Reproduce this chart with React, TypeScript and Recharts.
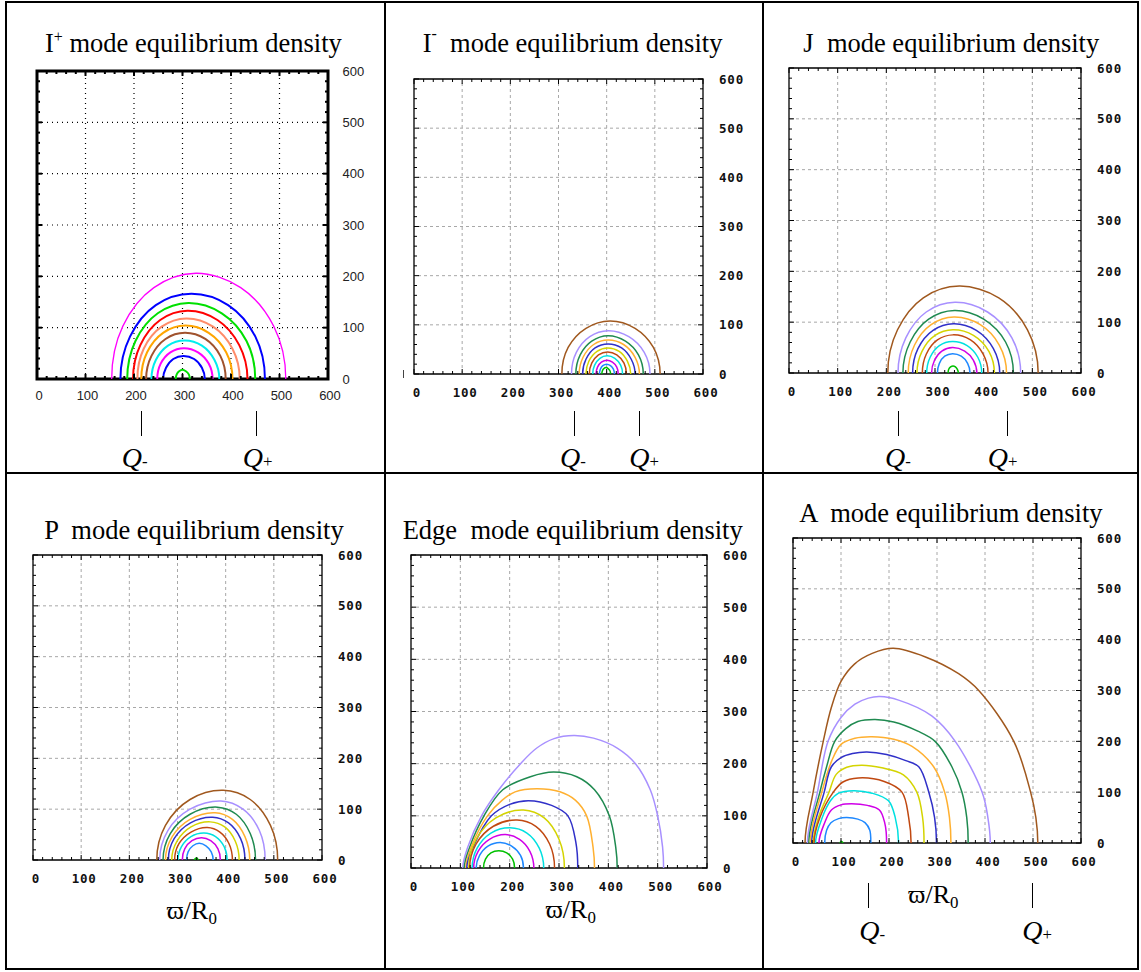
import React from 'react'
import { LineChart, Line, XAxis, YAxis, ReferenceArea, ReferenceLine } from 'recharts'

// axis ticks (minor every 20, labelled every 100)
const minorTicks = [
  0, 20, 40, 60, 80, 100, 120, 140, 160, 180, 200, 220, 240, 260, 280, 300,
  320, 340, 360, 380, 400, 420, 440, 460, 480, 500, 520, 540, 560, 580, 600,
]
const gridValues = [100, 200, 300, 400, 500]

// contours, outer to inner, as [x, y] points
const iPlusCurves: number[][][] = [
  [[154, 0], [177, 103], [241, 178], [328, 206], [420, 178], [488, 103], [513, 0]],
  [[172, 0], [192, 83], [245, 144], [318, 166], [394, 144], [450, 83], [470, 0]],
  [[186, 0], [203, 74], [249, 128], [312, 148], [381, 128], [432, 74], [450, 0]],
  [[198, 0], [213, 66], [254, 115], [310, 133], [372, 115], [417, 66], [434, 0]],
  [[207, 0], [220, 59], [257, 102], [308, 118], [363, 102], [403, 59], [418, 0]],
  [[215, 0], [227, 52], [260, 90], [306, 104], [354, 90], [390, 52], [403, 0]],
  [[225, 0], [236, 45], [265, 78], [305, 90], [347, 78], [378, 45], [389, 0]],
  [[236, 0], [245, 37], [270, 65], [304, 75], [340, 65], [366, 37], [376, 0]],
  [[248, 0], [255, 30], [275, 52], [303, 60], [332, 52], [354, 30], [362, 0]],
  [[260, 0], [266, 22], [281, 39], [302, 45], [324, 39], [340, 22], [346, 0]],
  [[286, 0], [288, 9], [293, 15], [300, 18], [307, 15], [313, 9], [315, 0]],
]
const iPlusColors = [
  '#ff00ff', '#0000ff', '#00e000', '#ff0000', '#ff8c69', '#ffa500',
  '#a0522d', '#00eeee', '#ff00ff', '#0000ff', '#00e000',
]

const iMinusCurves: number[][][] = [
  [[307, 0], [320, 54], [357, 93], [407, 108], [459, 93], [497, 54], [511, 0]],
  [[327, 0], [337, 44], [365, 76], [403, 88], [446, 76], [478, 44], [490, 0]],
  [[336, 0], [345, 39], [369, 67], [403, 78], [439, 67], [466, 39], [476, 0]],
  [[343, 0], [351, 34], [373, 60], [403, 69], [435, 60], [459, 34], [468, 0]],
  [[350, 0], [357, 30], [376, 53], [403, 61], [431, 53], [451, 30], [459, 0]],
  [[357, 0], [363, 26], [380, 46], [402, 53], [426, 46], [443, 26], [450, 0]],
  [[364, 0], [369, 22], [383, 39], [402, 45], [421, 39], [436, 22], [441, 0]],
  [[371, 0], [375, 18], [386, 32], [401, 37], [417, 32], [429, 18], [433, 0]],
  [[378, 0], [381, 14], [389, 24], [401, 28], [412, 24], [421, 14], [424, 0]],
  [[385, 0], [387, 10], [392, 17], [400, 20], [408, 17], [414, 10], [416, 0]],
  [[390, 0], [391, 6], [394, 11], [399, 13], [403, 11], [407, 6], [408, 0]],
]

const jCurves: number[][][] = [
  [[203, 0], [223, 85], [276, 148], [350, 171], [431, 148], [490, 85], [512, 0]],
  [[224, 0], [240, 69], [282, 120], [341, 139], [408, 120], [458, 69], [476, 0]],
  [[234, 0], [249, 61], [287, 106], [340, 123], [400, 106], [445, 61], [461, 0]],
  [[245, 0], [258, 55], [292, 95], [339, 110], [393, 95], [432, 55], [447, 0]],
  [[254, 0], [265, 48], [296, 84], [338, 97], [385, 84], [420, 48], [433, 0]],
  [[263, 0], [273, 42], [300, 74], [337, 85], [379, 74], [411, 42], [422, 0]],
  [[274, 0], [282, 37], [305, 65], [337, 75], [373, 65], [399, 37], [409, 0]],
  [[283, 0], [290, 31], [309, 54], [336, 62], [366, 54], [388, 31], [396, 0]],
  [[293, 0], [299, 25], [314, 43], [336, 50], [361, 43], [379, 25], [386, 0]],
  [[305, 0], [309, 19], [320, 33], [336, 38], [354, 33], [367, 19], [372, 0]],
  [[327, 0], [328, 7], [332, 12], [337, 14], [342, 12], [346, 7], [348, 0]],
]

const pCurves: number[][][] = [
  [[257, 0], [275, 68], [326, 119], [395, 137], [451, 119], [493, 68], [508, 0]],
  [[263, 0], [280, 58], [326, 100], [390, 116], [436, 100], [470, 58], [482, 0]],
  [[270, 0], [285, 52], [326, 90], [383, 104], [422, 90], [451, 52], [462, 0]],
  [[275, 0], [289, 46], [326, 80], [378, 93], [414, 80], [440, 46], [450, 0]],
  [[281, 0], [293, 42], [327, 73], [373, 84], [406, 73], [431, 42], [440, 0]],
  [[288, 0], [299, 37], [328, 65], [368, 75], [398, 65], [420, 37], [428, 0]],
  [[294, 0], [303, 32], [328, 55], [362, 64], [388, 55], [407, 32], [414, 0]],
  [[301, 0], [308, 26], [328, 46], [355, 53], [379, 46], [397, 26], [403, 0]],
  [[310, 0], [315, 22], [330, 38], [350, 44], [369, 38], [384, 22], [389, 0]],
  [[319, 0], [322, 16], [332, 28], [345, 33], [359, 28], [370, 16], [374, 0]],
  [[335, 0], [339, 4], [343, 0]],
]

const edgeCurves: number[][][] = [
  [[105, 0], [115, 40], [143, 100], [178, 150], [222, 200], [255, 230], [290, 248], [330, 254], [370, 249], [418, 230], [455, 200], [485, 150], [500, 100], [510, 40], [512, 0]],
  [[108, 0], [119, 40], [148, 100], [186, 150], [242, 175], [289, 184], [336, 175], [372, 150], [402, 100], [415, 40], [418, 0]],
  [[111, 0], [122, 40], [155, 100], [185, 130], [211, 146], [255, 152], [302, 146], [333, 130], [356, 100], [369, 40], [372, 0]],
  [[113, 0], [126, 40], [163, 100], [200, 122], [238, 129], [285, 120], [318, 100], [334, 50], [338, 0]],
  [[117, 0], [132, 55], [172, 96], [228, 111], [270, 96], [300, 55], [311, 0]],
  [[119, 0], [132, 46], [167, 80], [215, 92], [253, 80], [281, 46], [291, 0]],
  [[124, 0], [134, 38], [162, 67], [201, 77], [235, 67], [260, 38], [269, 0]],
  [[127, 0], [136, 32], [159, 55], [191, 64], [220, 55], [241, 32], [249, 0]],
  [[132, 0], [139, 24], [156, 42], [181, 49], [204, 42], [222, 24], [228, 0]],
  [[147, 0], [151, 17], [162, 29], [178, 33], [194, 29], [206, 17], [210, 0]],
]

const aCurves: number[][][] = [
  [[25, 0], [42, 100], [63, 200], [80, 267], [100, 318], [128, 352], [165, 373], [209, 383], [276, 366], [345, 333], [387, 300], [460, 200], [495, 100], [506, 50], [510, 0]],
  [[30, 0], [51, 100], [73, 200], [100, 247], [129, 273], [157, 285], [181, 288], [220, 281], [289, 250], [338, 200], [394, 100], [406, 50], [411, 0]],
  [[33, 0], [56, 100], [70, 150], [87, 200], [110, 225], [135, 239], [171, 243], [210, 238], [260, 220], [296, 200], [331, 150], [352, 100], [362, 50], [365, 0]],
  [[36, 0], [60, 100], [80, 160], [100, 194], [129, 206], [164, 209], [210, 204], [248, 190], [293, 150], [316, 100], [326, 50], [329, 0]],
  [[39, 0], [65, 100], [80, 150], [100, 168], [124, 176], [154, 179], [195, 174], [235, 162], [262, 150], [283, 100], [295, 50], [299, 0]],
  [[42, 0], [53, 50], [75, 100], [90, 135], [112, 149], [143, 153], [185, 148], [230, 134], [258, 100], [270, 50], [273, 0]],
  [[44, 0], [56, 50], [84, 100], [104, 120], [136, 128], [190, 121], [227, 100], [241, 50], [246, 0]],
  [[47, 0], [61, 50], [78, 83], [95, 98], [126, 103], [165, 98], [199, 83], [213, 50], [220, 0]],
  [[54, 0], [66, 40], [80, 65], [100, 75], [122, 77], [155, 74], [180, 65], [191, 40], [195, 0]],
  [[66, 0], [70, 25], [79, 40], [95, 48], [112, 50], [135, 47], [150, 40], [160, 25], [162, 0]],
  [[98, 0], [101, 3], [104, 0]],
]

// gnuplot line colours, outer to inner
const gpColors = [
  '#a0581e', '#a890ff', '#1f8a50', '#ffb030', '#3030c8', '#d4d400',
  '#c04810', '#00e0e0', '#d000e8', '#1e88ff', '#00c000',
]

// Centripetal Catmull-Rom through the points; the ends leave the axis
// vertically, as a contour closed by its mirror image below the axis would.
function ArcCurve(this: any, context: any) {
  this._context = context
}
ArcCurve.prototype = {
  areaStart() {},
  areaEnd() {},
  lineStart() {
    this._pts = []
  },
  point(x: number, y: number) {
    this._pts.push([+x, +y])
  },
  lineEnd() {
    const p: number[][] = this._pts
    const ctx = this._context
    const n = p.length
    if (!n) return
    ctx.moveTo(p[0][0], p[0][1])
    if (n === 1) return
    const at = (i: number) => {
      if (i < 0) return [p[1][0], 2 * p[0][1] - p[1][1]]
      if (i > n - 1) return [p[n - 2][0], 2 * p[n - 1][1] - p[n - 2][1]]
      return p[i]
    }
    const dist = (a: number[], b: number[]) => Math.sqrt(Math.hypot(a[0] - b[0], a[1] - b[1]))
    for (let i = 0; i < n - 1; i++) {
      const p0 = at(i - 1)
      const p1 = at(i)
      const p2 = at(i + 1)
      const p3 = at(i + 2)
      const l01 = dist(p0, p1)
      const l12 = dist(p1, p2)
      const l23 = dist(p2, p3)
      let c1 = [p1[0], p1[1]]
      let c2 = [p2[0], p2[1]]
      if (l01 > 1e-9) {
        const a = 2 * l01 * l01 + 3 * l01 * l12 + l12 * l12
        const m = 3 * l01 * (l01 + l12)
        c1 = [
          (p1[0] * a - p0[0] * l12 * l12 + p2[0] * l01 * l01) / m,
          (p1[1] * a - p0[1] * l12 * l12 + p2[1] * l01 * l01) / m,
        ]
      }
      if (l23 > 1e-9) {
        const b = 2 * l23 * l23 + 3 * l23 * l12 + l12 * l12
        const m = 3 * l23 * (l23 + l12)
        c2 = [
          (p2[0] * b + p1[0] * l23 * l23 - p3[0] * l12 * l12) / m,
          (p2[1] * b + p1[1] * l23 * l23 - p3[1] * l12 * l12) / m,
        ]
      }
      ctx.bezierCurveTo(c1[0], c1[1], c2[0], c2[1], p2[0], p2[1])
    }
  },
}
const arcCurve: any = (context: any) => new (ArcCurve as any)(context)

type PanelCfg = {
  x: number
  y: number
  w: number
  h: number
  curves: number[][][]
  colors: string[]
  gnu: boolean
}

const M = 12

function Panel({ cfg }: { cfg: PanelCfg }) {
  const { x, y, w, h, curves, colors, gnu } = cfg
  const labelStyle: React.CSSProperties = gnu
    ? { fontFamily: '"DejaVu Sans Mono", monospace', fontWeight: 700, fontSize: 12.5, letterSpacing: 0.8 }
    : { fontFamily: '"Liberation Sans", Arial, sans-serif', fontSize: 13 }
  const tickW = gnu ? 1 : 2

  const bottomTick = (p: any) => {
    const v = p.payload.value
    const major = v % 100 === 0
    const len = major ? 5 : 3
    return (
      <g>
        <line x1={p.x} x2={p.x} y1={p.y} y2={p.y - len} stroke="#000" strokeWidth={tickW} />
        <line x1={p.x} x2={p.x} y1={M} y2={M + len} stroke="#000" strokeWidth={tickW} />
        {major && (
          <text
            x={p.x + (gnu ? 3 : 2)}
            y={p.y + (gnu ? 18 : 16)}
            textAnchor="middle"
            dominantBaseline="central"
            fill={gnu ? '#111' : '#222'}
            style={labelStyle}
          >
            {v}
          </text>
        )}
      </g>
    )
  }

  const rightTick = (p: any) => {
    const v = p.payload.value
    const major = v % 100 === 0
    const len = major ? 5 : 3
    return (
      <g>
        <line x1={p.x} x2={p.x - len} y1={p.y} y2={p.y} stroke="#000" strokeWidth={tickW} />
        <line x1={M} x2={M + len} y1={p.y} y2={p.y} stroke="#000" strokeWidth={tickW} />
        {major && (
          <text
            x={p.x + (gnu ? 16 : 14.5)}
            y={p.y}
            textAnchor="start"
            dominantBaseline="central"
            fill={gnu ? '#111' : '#222'}
            style={labelStyle}
          >
            {v}
          </text>
        )}
      </g>
    )
  }

  const gridProps = gnu
    ? { stroke: '#a8a8a8', strokeDasharray: '3 3', strokeWidth: 1 }
    : { stroke: '#000', strokeDasharray: '1 4', strokeWidth: 1.2 }

  return (
    <div style={{ position: 'absolute', left: x - M, top: y - M }}>
      <LineChart width={M + w + 60} height={M + h + 40} margin={{ top: M, left: M, right: 10, bottom: 0 }}>
        <XAxis
          type="number"
          dataKey="x"
          domain={[0, 600]}
          ticks={minorTicks}
          interval={0}
          tickSize={0}
          tickMargin={0}
          tickLine={false}
          axisLine={false}
          tick={bottomTick}
          height={40}
          allowDataOverflow
        />
        <YAxis
          type="number"
          domain={[0, 600]}
          orientation="right"
          ticks={minorTicks}
          interval={0}
          tickSize={0}
          tickMargin={0}
          tickLine={false}
          axisLine={false}
          tick={rightTick}
          width={50}
          allowDataOverflow
        />
        {gridValues.map((v) => (
          <ReferenceLine key={'gx' + v} x={v} {...gridProps} />
        ))}
        {gridValues.map((v) => (
          <ReferenceLine key={'gy' + v} y={v} {...gridProps} />
        ))}
        {curves.map((c, i) => (
          <Line
            key={i}
            data={c.map(([px, py]) => ({ x: px, y: py }))}
            dataKey="y"
            type={arcCurve}
            stroke={colors[i]}
            strokeWidth={gnu ? 1.5 : i === 0 ? 1.3 : 2}
            dot={false}
            isAnimationActive={false}
          />
        ))}
        <ReferenceArea
          x1={0}
          x2={600}
          y1={0}
          y2={600}
          fill="none"
          fillOpacity={0}
          stroke="#000"
          strokeWidth={gnu ? 1.3 : 3}
        />
      </LineChart>
    </div>
  )
}

const panels: PanelCfg[] = [
  { x: 37, y: 71, w: 291, h: 308, curves: iPlusCurves, colors: iPlusColors, gnu: false },
  { x: 414, y: 79, w: 289, h: 295, curves: iMinusCurves, colors: gpColors, gnu: true },
  { x: 789, y: 68, w: 292, h: 305, curves: jCurves, colors: gpColors, gnu: true },
  { x: 33, y: 555, w: 289, h: 305, curves: pCurves, colors: gpColors, gnu: true },
  { x: 411, y: 555, w: 296, h: 313, curves: edgeCurves, colors: gpColors.slice(1), gnu: true },
  { x: 793, y: 538, w: 288, h: 305, curves: aCurves, colors: gpColors, gnu: true },
]

const serif = '"Liberation Serif", "Times New Roman", serif'

const titles = [
  { left: 45, top: 29.5, head: 'I', sup: '+', rest: ' mode equilibrium density' },
  { left: 422.7, top: 29.5, head: 'I', sup: '-', rest: '  mode equilibrium density' },
  { left: 803.3, top: 29.5, head: 'J', sup: '', rest: '  mode equilibrium density' },
  { left: 44.3, top: 517, head: 'P', sup: '', rest: '  mode equilibrium density' },
  { left: 402.7, top: 517, head: 'Edge', sup: '', rest: '  mode equilibrium density' },
  { left: 799.3, top: 499.5, head: 'A', sup: '', rest: '  mode equilibrium density' },
]

const qLabels = [
  { left: 121.7, top: 443.5, sub: '-' },
  { left: 242.7, top: 443.5, sub: '+' },
  { left: 560, top: 443.5, sub: '-' },
  { left: 629.3, top: 443.5, sub: '+' },
  { left: 885, top: 443.5, sub: '-' },
  { left: 987.7, top: 443.5, sub: '+' },
  { left: 859.3, top: 916.5, sub: '-' },
  { left: 1022.3, top: 916.5, sub: '+' },
]

const qMarks = [
  { left: 140.7, top: 410.7 },
  { left: 256, top: 410.7 },
  { left: 574.3, top: 410.7 },
  { left: 639, top: 410.7 },
  { left: 897.7, top: 410.7 },
  { left: 1006.7, top: 410.7 },
  { left: 867.7, top: 883 },
  { left: 1032.3, top: 883 },
]

const axisLabels = [
  { left: 166.7, top: 898 },
  { left: 545.7, top: 896.5 },
  { left: 908.3, top: 881.5 },
]

export default function App() {
  return (
    <div
      style={{
        position: 'absolute',
        left: 0,
        top: 0,
        width: 1141,
        height: 972,
        background: '#fff',
        overflow: 'hidden',
      }}
    >
      {/* table rules */}
      <div style={{ position: 'absolute', left: 5, top: 1, width: 1130, height: 965, border: '2px solid #000' }} />
      <div style={{ position: 'absolute', left: 384, top: 1, width: 2, height: 969, background: '#000' }} />
      <div style={{ position: 'absolute', left: 762, top: 1, width: 2, height: 969, background: '#000' }} />
      <div style={{ position: 'absolute', left: 5, top: 471.5, width: 1134, height: 2, background: '#000' }} />

      {panels.map((p, i) => (
        <Panel key={i} cfg={p} />
      ))}

      {/* stray mark left of the I- frame */}
      <div style={{ position: 'absolute', left: 402.5, top: 370, width: 1, height: 8, background: '#444' }} />

      {titles.map((t, i) => (
        <div
          key={i}
          style={{
            position: 'absolute',
            left: t.left,
            top: t.top,
            fontFamily: serif,
            fontSize: 26.5,
            lineHeight: 1,
            whiteSpace: 'pre',
            color: '#000',
          }}
        >
          {t.head}
          {t.sup && (
            <span style={{ fontSize: '0.6em', position: 'relative', top: t.sup === '+' ? '-0.62em' : '-0.8em' }}>
              {t.sup}
            </span>
          )}
          {t.rest}
        </div>
      ))}

      {qMarks.map((m, i) => (
        <div key={i} style={{ position: 'absolute', left: m.left, top: m.top, width: 1, height: 25, background: '#000' }} />
      ))}

      {qLabels.map((q, i) => (
        <div
          key={i}
          style={{
            position: 'absolute',
            left: q.left,
            top: q.top,
            fontFamily: serif,
            fontSize: 28,
            lineHeight: 1,
            fontStyle: 'italic',
            whiteSpace: 'pre',
          }}
        >
          Q<span style={{ fontStyle: 'normal', fontSize: '0.6em' }}>{q.sub}</span>
        </div>
      ))}

      {axisLabels.map((a, i) => (
        <div
          key={i}
          style={{
            position: 'absolute',
            left: a.left,
            top: a.top,
            fontFamily: serif,
            fontSize: 26,
            lineHeight: 1,
            whiteSpace: 'pre',
          }}
        >
          ϖ/R<span style={{ fontSize: '0.65em', position: 'relative', top: '0.3em' }}>0</span>
        </div>
      ))}
    </div>
  )
}
